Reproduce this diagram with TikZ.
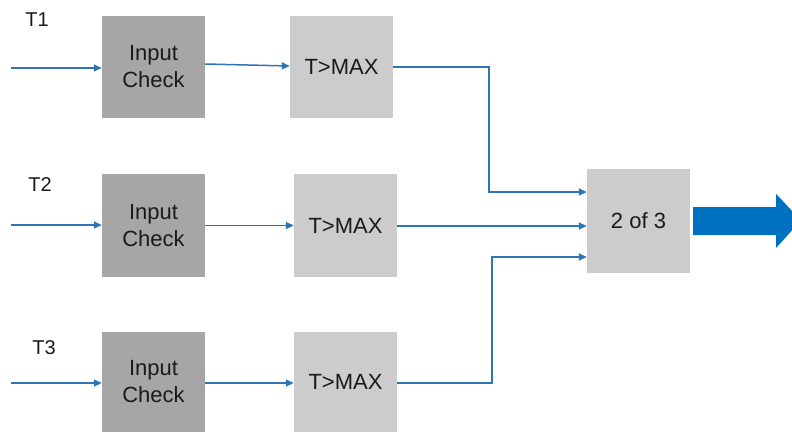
\documentclass[tikz,border=0pt]{standalone}
\usepackage{fontspec}
\setmainfont{Liberation Sans}
\usetikzlibrary{arrows.meta}
\definecolor{checkgray}{HTML}{A6A6A6}
\definecolor{blockgray}{HTML}{CCCCCC}
\definecolor{wireblue}{HTML}{2E75B6}
\definecolor{bigblue}{HTML}{0070C0}
\definecolor{inkblack}{HTML}{1A1A1A}
\begin{document}
\begin{tikzpicture}[x=1pt,y=-1pt,
  block/.style={minimum width=103pt,minimum height=102pt,inner sep=0pt,
    align=center,font=\fontsize{22}{27}\selectfont,text=inkblack},
  checkbox/.style={block,fill=checkgray},
  limitbox/.style={block,fill=blockgray},
  chan/.style={font=\fontsize{20}{24}\selectfont,text=inkblack},
  wire/.style={draw=wireblue,line width=1.5pt,
    -{Triangle[length=8pt,width=7pt]}}]
\useasboundingbox (0,0) rectangle (792,432);

% channel labels
\node[chan] (t1) at (37,20) {T1};
\node[chan] (t2) at (40,185) {T2};
\node[chan] (t3) at (44,348) {T3};

% processing blocks
\node[checkbox] (ic1) at (153.5,67) {Input\\Check};
\node[limitbox] (tm1) at (341.5,67) {T>MAX};
\node[checkbox, minimum height=103pt] (ic2) at (153.5,225.5) {Input\\Check};
\node[limitbox, minimum height=103pt] (tm2) at (345.5,225.5) {T>MAX};
\node[checkbox, minimum height=100pt] (ic3) at (153.5,382) {Input\\Check};
\node[limitbox, minimum height=100pt] (tm3) at (345.5,382) {T>MAX};
\node[limitbox, minimum height=104pt] (vote) at (638.5,221) {2 of 3};

% sensor inputs
\coordinate (in1) at (11,68);
\coordinate (in2) at (11,225);
\coordinate (in3) at (11,383);
\draw[wire] (in1) -- (in1 -| ic1.west);
\draw[wire] (in2) -- (in2 -| ic2.west);
\draw[wire] (in3) -- (in3 -| ic3.west);

% check -> limit
\draw[wire] ([yshift=3pt]ic1.east) -- ([yshift=1pt]tm1.west);
\draw[wire] (ic2.east) -- (ic2.east -| tm2.west);
\draw[wire] ([yshift=-1pt]ic3.east) -- ([yshift=-1pt]ic3.east -| tm3.west);

% limit -> voter
\draw[wire] (tm1.east) -- ++(96,0) |- ([yshift=29pt]vote.west);
\draw[wire] ([yshift=-0.5pt]tm2.east) -- ([yshift=-0.5pt]tm2.east -| vote.west);
\draw[wire] ([yshift=-1pt]tm3.east) -- ++(95,0) |- ([yshift=-36pt]vote.west);

% voter output
\fill[bigblue] ([xshift=3pt,yshift=14pt]vote.east) -- ++(83,0) -- ++(0,-13)
  -- (801,220.5) -- (776,248) -- (776,235) -- ([xshift=3pt,yshift=-14pt]vote.east) -- cycle;
\end{tikzpicture}
\end{document}
